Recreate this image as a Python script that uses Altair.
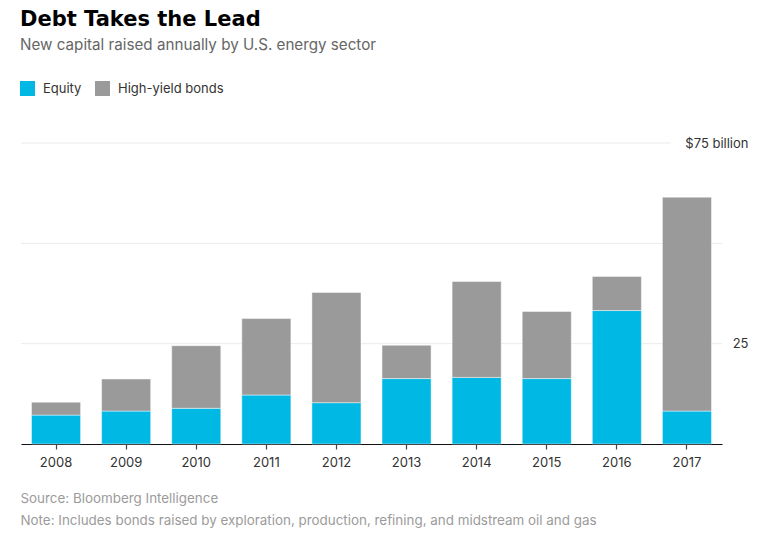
import altair as alt
import pandas as pd

years = ["2008", "2009", "2010", "2011", "2012", "2013", "2014", "2015", "2016", "2017"]
equity = [7.2, 8.2, 8.9, 12.2, 10.3, 16.3, 16.6, 16.3, 33.25, 8.2]
bonds = [3.2, 8.0, 15.6, 19.05, 27.45, 8.3, 23.9, 16.7, 8.5, 53.3]
series = ["Equity", "High-yield bonds"]
colors = ["#00b8e4", "#9a9a9a"]
grid_values = [25, 50, 75]

rows = []
for y, e, b in zip(years, equity, bonds):
    rows.append({"year": y, "type": series[0], "value": e, "rank": 0})
    rows.append({"year": y, "type": series[1], "value": b, "rank": 1})
df = pd.DataFrame(rows)
grid_df = pd.DataFrame({"v": grid_values})

FONT = "Inter"
W, H = 701, 301

yscale = alt.Scale(domain=[0, 75], nice=False)

bars = alt.Chart(df).mark_bar(stroke="white", strokeWidth=1, strokeOpacity=0.45).encode(
    x=alt.X("year:N", sort=years,
            scale=alt.Scale(paddingInner=0.3, paddingOuter=0.15),
            axis=alt.Axis(
                title=["Source: Bloomberg Intelligence",
                       "Note: Includes bonds raised by exploration, production, refining, and midstream oil and gas"],
                titleAnchor="start", titleAlign="left", titleX=-1, titleY=47,
                titleBaseline="top",
                titleFont=FONT, titleFontSize=13.4, titleFontWeight="normal",
                titleColor="#9b9b9b", titleLineHeight=22,
                labelAngle=0, labelFont=FONT, labelFontSize=13, labelColor="#333333",
                labelPadding=7,
                domainColor="#111111", domainWidth=1.2,
                tickColor="#444444", tickSize=5, tickWidth=1.2,
            )),
    y=alt.Y("value:Q", stack="zero", scale=yscale,
            axis=alt.Axis(orient="right", values=[25, 75], title=None,
                          labelExpr="datum.value == 75 ? '$75 billion' : datum.label",
                          labelAlign="right", labelPadding=26, labelBaseline="middle",
                          labelFont=FONT, labelFontSize=13, labelColor="#333333",
                          ticks=False, domain=False, grid=False)),
    color=alt.Color("type:N", scale=alt.Scale(domain=series, range=colors),
                    legend=alt.Legend(title=None, orient="none", legendX=-1, legendY=-62,
                                      direction="horizontal", symbolType="square",
                                      symbolSize=225, symbolStrokeWidth=0,
                                      labelFont=FONT, labelFontSize=13, labelColor="#333333",
                                      labelOffset=8, columnPadding=13)),
    order=alt.Order("rank:Q", sort="ascending"),
)

grid_low = alt.Chart(grid_df).transform_filter("datum.v < 75").mark_rule(
    color="#ebebeb", strokeWidth=1).encode(
    y=alt.Y("v:Q", scale=yscale), x=alt.value(0), x2=alt.value(W))
grid_top = alt.Chart(grid_df).transform_filter("datum.v == 75").mark_rule(
    color="#ebebeb", strokeWidth=1).encode(
    y=alt.Y("v:Q", scale=yscale), x=alt.value(0), x2=alt.value(650))

chart = alt.layer(grid_low, grid_top, bars).properties(
    width=W, height=H,
    padding={"left": 12, "top": 0, "right": 5, "bottom": 5},
    title=alt.TitleParams(
        "Debt Takes the Lead",
        subtitle="New capital raised annually by U.S. energy sector",
        anchor="start", frame="group", dx=-1,
        font="DejaVu Sans", fontSize=21, fontWeight="bold", color="#000000",
        subtitleFont=FONT, subtitleFontSize=15.2, subtitleColor="#666666",
        subtitlePadding=8, offset=28,
    ),
).configure_view(stroke=None)

chart.save("out.html", embed_options={"renderer": "svg", "actions": False})
